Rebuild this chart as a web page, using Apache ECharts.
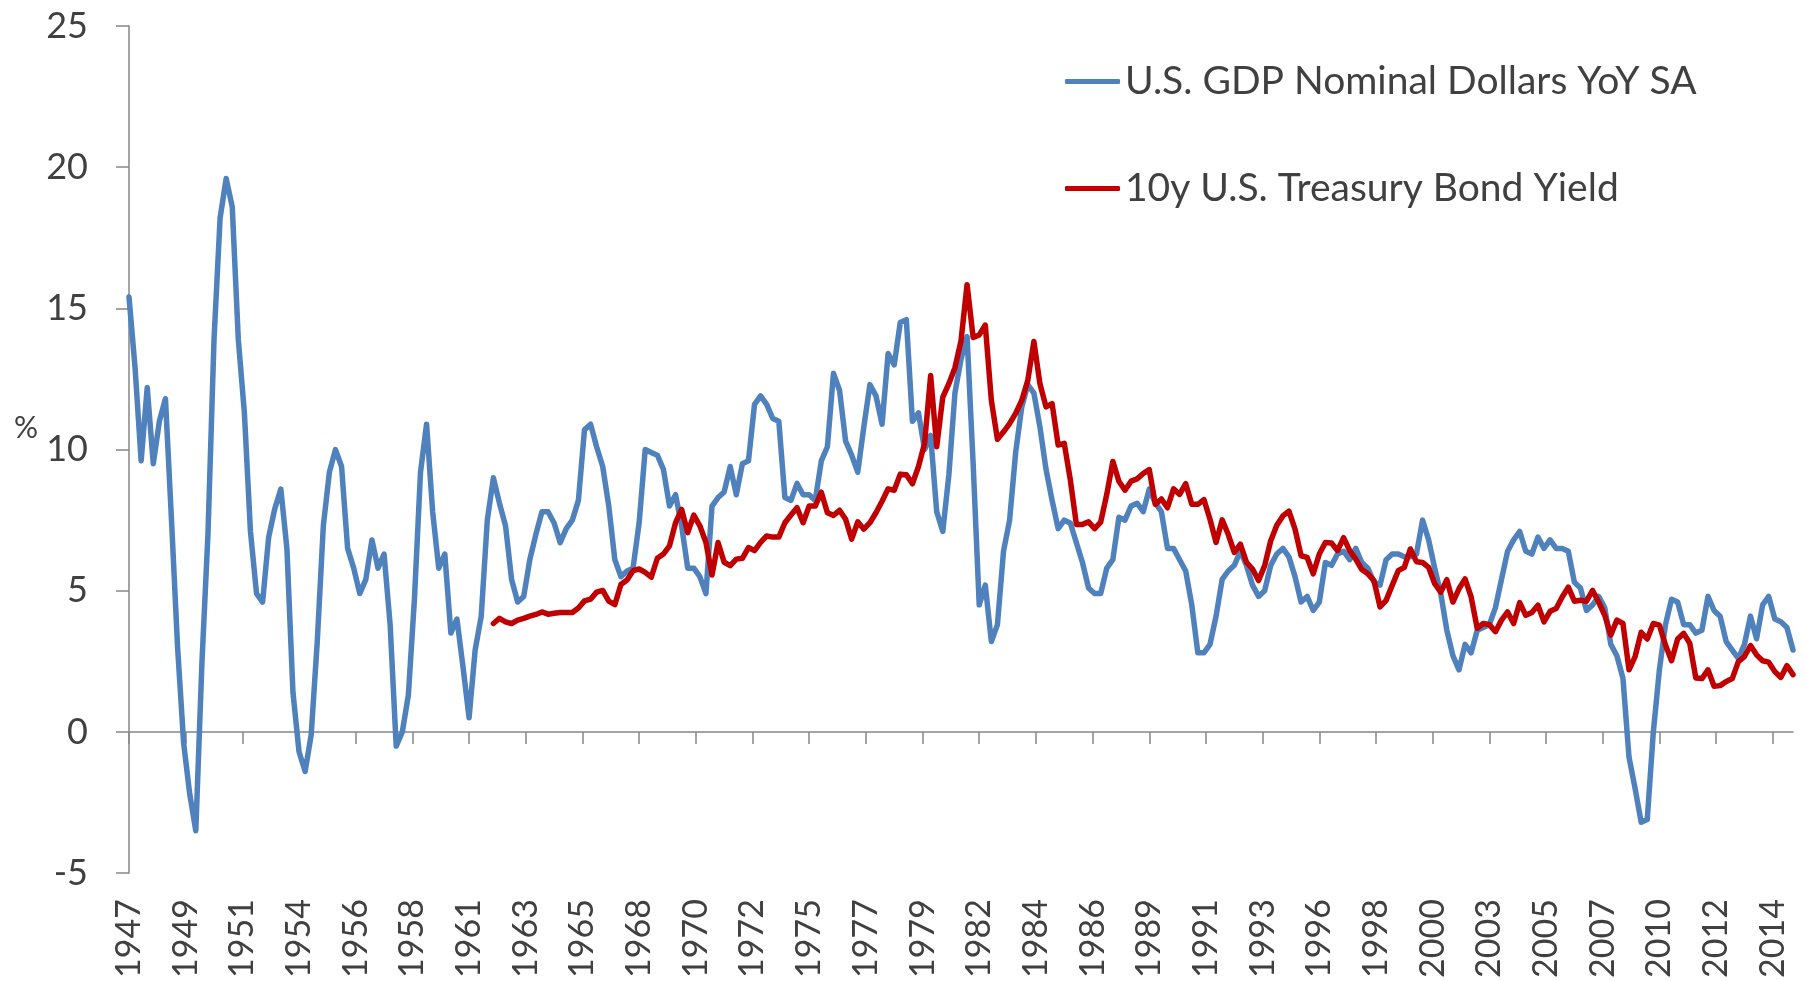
<!DOCTYPE html>
<html>
<head>
<meta charset="utf-8">
<title>US GDP vs 10y Treasury</title>
<script src="https://cdn.jsdelivr.net/npm/echarts@6/dist/echarts.min.js"></script>
<style>
  html, body { margin: 0; padding: 0; background: #fff; }
  #main { width: 1805px; height: 981px; }
</style>
</head>
<body>
<div id="main"></div>
<script>
// quarterly data, first point = 1947 Q1; x position = months since Jan 1947
var tickYears = ['1947', '1949', '1951', '1954', '1956', '1958', '1961', '1963', '1965', '1968',
  '1970', '1972', '1975', '1977', '1979', '1982', '1984', '1986', '1989', '1991',
  '1993', '1996', '1998', '2000', '2003', '2005', '2007', '2010', '2012', '2014'];
var tickStepMonths = 28;

var gdpYoY = [
  15.4, 12.9, 9.6, 12.2, 9.5, 11.0, 11.8, 7.5, 3.0, -0.4,
  -2.2, -3.5, 2.4, 7.0, 13.9, 18.2, 19.6, 18.6, 13.9, 11.3,
  7.1, 4.9, 4.6, 6.9, 7.9, 8.6, 6.5, 1.4, -0.7, -1.4,
  -0.1, 3.2, 7.3, 9.2, 10.0, 9.4, 6.5, 5.8, 4.9, 5.4,
  6.8, 5.8, 6.3, 3.8, -0.5, 0.0, 1.3, 4.7, 9.2, 10.9,
  7.8, 5.8, 6.3, 3.5, 4.0, 2.3, 0.5, 2.9, 4.1, 7.5,
  9.0, 8.1, 7.3, 5.4, 4.6, 4.8, 6.1, 7.0, 7.8, 7.8,
  7.4, 6.7, 7.2, 7.5, 8.2, 10.7, 10.9, 10.1, 9.4, 8.0,
  6.1, 5.5, 5.7, 5.8, 7.4, 10.0, 9.9, 9.8, 9.3, 8.0,
  8.4, 7.3, 5.8, 5.8, 5.5, 4.9, 8.0, 8.3, 8.5, 9.4,
  8.4, 9.5, 9.6, 11.6, 11.9, 11.6, 11.1, 11.0, 8.3, 8.2,
  8.8, 8.4, 8.4, 8.2, 9.6, 10.1, 12.7, 12.1, 10.3, 9.8,
  9.2, 10.8, 12.3, 11.9, 10.9, 13.4, 13.0, 14.5, 14.6, 11.0,
  11.3, 10.0, 10.5, 7.8, 7.1, 9.1, 12.0, 13.2, 14.0, 9.5,
  4.5, 5.2, 3.2, 3.8, 6.4, 7.5, 9.9, 11.5, 12.3, 12.0,
  10.8, 9.3, 8.2, 7.2, 7.5, 7.4, 6.7, 6.0, 5.1, 4.9,
  4.9, 5.8, 6.1, 7.6, 7.5, 8.0, 8.1, 7.8, 8.6, 8.1,
  7.8, 6.5, 6.5, 6.1, 5.7, 4.5, 2.8, 2.8, 3.1, 4.1,
  5.4, 5.7, 5.9, 6.4, 5.9, 5.2, 4.8, 5.0, 5.9, 6.3,
  6.5, 6.2, 5.5, 4.6, 4.8, 4.3, 4.6, 6.0, 5.9, 6.3,
  6.4, 6.1, 6.5, 6.0, 5.8, 5.3, 5.2, 6.1, 6.3, 6.3,
  6.2, 6.2, 6.3, 7.5, 6.8, 5.8, 4.9, 3.6, 2.7, 2.2,
  3.1, 2.8, 3.6, 3.7, 3.8, 4.4, 5.4, 6.4, 6.8, 7.1,
  6.4, 6.3, 6.9, 6.5, 6.8, 6.5, 6.5, 6.4, 5.3, 5.1,
  4.3, 4.5, 4.8, 4.4, 3.1, 2.7, 1.9, -0.9, -2.0, -3.2,
  -3.1, 0.0, 2.2, 3.8, 4.7, 4.6, 3.8, 3.8, 3.5, 3.6,
  4.8, 4.3, 4.1, 3.2, 2.9, 2.6, 3.1, 4.1, 3.3, 4.5,
  4.8, 4.0, 3.9, 3.7, 2.9
];

// starts 1962 Q1
var treasuryStartQuarter = 60;
var treasury10y = [
  3.84, 4.02, 3.90, 3.84, 3.96, 4.02, 4.10, 4.16, 4.25, 4.17,
  4.20, 4.23, 4.23, 4.23, 4.39, 4.64, 4.70, 4.95, 5.01, 4.63,
  4.51, 5.22, 5.38, 5.71, 5.77, 5.65, 5.48, 6.15, 6.30, 6.59,
  7.41, 7.88, 7.06, 7.68, 7.30, 6.71, 5.56, 6.71, 6.01, 5.89,
  6.12, 6.15, 6.53, 6.42, 6.71, 6.94, 6.90, 6.90, 7.41, 7.68,
  7.94, 7.41, 8.00, 8.00, 8.49, 7.76, 7.67, 7.85, 7.53, 6.83,
  7.44, 7.18, 7.41, 7.76, 8.17, 8.61, 8.56, 9.13, 9.11, 8.79,
  9.40, 10.22, 12.62, 10.10, 11.86, 12.33, 12.90, 13.85, 15.84, 13.97,
  14.06, 14.41, 11.74, 10.36, 10.63, 10.92, 11.28, 11.74, 12.45, 13.83,
  12.33, 11.51, 11.63, 10.16, 10.22, 8.93, 7.35, 7.35, 7.44, 7.20,
  7.43, 8.41, 9.58, 8.88, 8.56, 8.88, 8.96, 9.15, 9.29, 8.06,
  8.25, 7.94, 8.61, 8.41, 8.79, 8.06, 8.06, 8.23, 7.53, 6.71,
  7.51, 7.00, 6.36, 6.65, 6.01, 5.77, 5.36, 5.89, 6.77, 7.32,
  7.65, 7.82, 7.18, 6.24, 6.18, 5.60, 6.30, 6.71, 6.69, 6.42,
  6.88, 6.42, 6.12, 5.75, 5.60, 5.36, 4.43, 4.66, 5.19, 5.71,
  5.83, 6.48, 6.03, 6.00, 5.83, 5.25, 4.95, 5.39, 4.60, 5.07,
  5.42, 4.78, 3.67, 3.84, 3.80, 3.55, 3.96, 4.25, 3.84, 4.58,
  4.13, 4.23, 4.49, 3.90, 4.27, 4.37, 4.78, 5.13, 4.63, 4.66,
  4.63, 5.01, 4.60, 4.13, 3.43, 3.96, 3.84, 2.20, 2.67, 3.53,
  3.29, 3.84, 3.78, 3.08, 2.52, 3.29, 3.49, 3.14, 1.91, 1.89,
  2.20, 1.62, 1.64, 1.79, 1.89, 2.49, 2.67, 3.06, 2.73, 2.52,
  2.47, 2.14, 1.93, 2.35, 2.03
];

function toPoints(values, firstQuarter) {
  return values.map(function (v, i) { return [(firstQuarter + i) * 3, v]; });
}

var tickMonths = tickYears.map(function (y, i) { return i * tickStepMonths; });
var lastMonth = (gdpYoY.length - 1) * 3;

var textColor = '#404040';
var axisColor = '#868686';
var fontFamily = 'Lato, "Open Sans", sans-serif';

var myChart = echarts.init(document.getElementById('main'), null, { renderer: 'canvas' });

myChart.setOption({
  animation: false,
  backgroundColor: '#ffffff',
  textStyle: { fontFamily: fontFamily, color: textColor },
  grid: { left: 129, top: 26, width: 1664, height: 854, containLabel: false },
  legend: {
    orient: 'vertical',
    left: 1060,
    top: 54,
    itemWidth: 55,
    itemHeight: 5,
    itemGap: 62,
    icon: 'roundRect',
    textStyle: { fontSize: 39, color: textColor, fontFamily: fontFamily, lineHeight: 45 },
    data: ['U.S. GDP Nominal Dollars YoY SA', '10y U.S. Treasury Bond Yield']
  },
  graphic: [{
    type: 'text',
    left: 14,
    top: 413,
    style: { text: '%', fontSize: 30, fill: textColor, fontFamily: fontFamily }
  }],
  xAxis: [{
    // labels along the bottom edge
    type: 'value',
    min: 0,
    max: lastMonth,
    position: 'bottom',
    splitLine: { show: false },
    axisLine: { show: false, onZero: false },
    axisTick: { show: false },
    axisLabel: {
      customValues: tickMonths,
      rotate: 90,
      margin: 26,
      fontSize: 34,
      color: textColor,
      fontFamily: fontFamily,
      formatter: function (v) { return tickYears[Math.round(v / tickStepMonths)]; }
    }
  }, {
    // axis line and ticks on the zero line
    type: 'value',
    min: 0,
    max: lastMonth,
    position: 'bottom',
    splitLine: { show: false },
    axisLine: { show: true, onZero: true, lineStyle: { color: axisColor, width: 1.5 } },
    axisTick: { show: true, customValues: tickMonths, length: 12, inside: false, lineStyle: { color: axisColor, width: 1.5 } },
    axisLabel: { show: false }
  }],
  yAxis: {
    type: 'value',
    min: -5,
    max: 25,
    interval: 5,
    splitLine: { show: false },
    axisLine: { show: true, lineStyle: { color: axisColor, width: 1.5 } },
    axisTick: { show: true, length: 13, lineStyle: { color: axisColor, width: 1.5 } },
    axisLabel: { margin: 41, fontSize: 36, color: textColor, fontFamily: fontFamily }
  },
  series: [{
    name: 'U.S. GDP Nominal Dollars YoY SA',
    type: 'line',
    xAxisIndex: 0,
    data: toPoints(gdpYoY, 0),
    symbol: 'none',
    color: '#4F81BD',
    lineStyle: { width: 5.5, color: '#4F81BD', cap: 'round', join: 'round' }
  }, {
    name: '10y U.S. Treasury Bond Yield',
    type: 'line',
    xAxisIndex: 0,
    data: toPoints(treasury10y, treasuryStartQuarter),
    symbol: 'none',
    color: '#C00000',
    lineStyle: { width: 5.5, color: '#C00000', cap: 'round', join: 'round' }
  }]
});
</script>
</body>
</html>
